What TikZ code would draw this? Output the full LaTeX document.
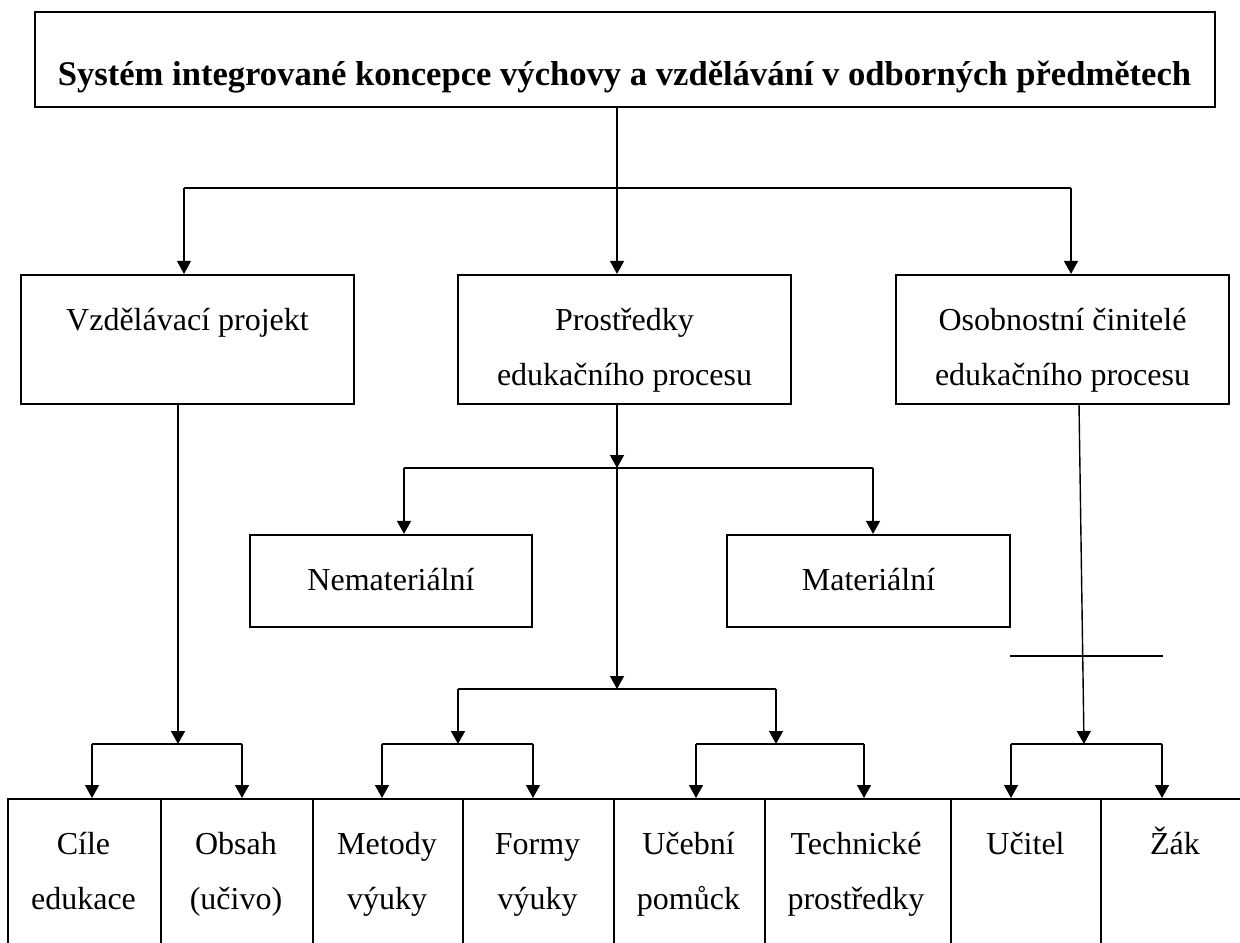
\documentclass[tikz,border=0pt]{standalone}
\usepackage{fontspec}
\setmainfont{Liberation Serif}
\usetikzlibrary{arrows.meta}
\newcommand\twol[2]{\begin{tabular}[t]{@{}c@{}}#1\\#2\end{tabular}}
\begin{document}
\begin{tikzpicture}[x=0.5pt,y=-0.5pt,
  box/.style={draw, line width=1.1pt, inner sep=0pt, font=\fontsize{16}{27.5}\selectfont},
  cellbox/.style={draw, line width=0.8pt, inner sep=0pt, anchor=north west, minimum height=81pt},
  txt/.style={font=\fontsize{16}{27.5}\selectfont, inner sep=0pt, anchor=base},
  con/.style={line width=0.7pt},
  bar/.style={line width=1.1pt},
  arr/.style={-{Triangle[length=6.5pt,width=7pt]}},
]
\useasboundingbox (0,0) rectangle (1240,942);
\clip (0,0) rectangle (1240,942);

% title
\node[box, minimum width=590pt, minimum height=47.5pt] (title) at (625,59.5) {};
\node[txt, font=\fontsize{17.3}{27.5}\selectfont\bfseries] (titletxt) at (624.5,85)
  {Systém integrované koncepce výchovy a vzdělávání v odborných předmětech};

% level 2
\node[box, minimum width=166.5pt, minimum height=64.5pt] (vp) at (187.5,339.5) {};
\node[txt] (vptxt) at (187.5,330) {Vzdělávací projekt};
\node[box, minimum width=166.5pt, minimum height=64.5pt] (pr) at (624.5,339.5) {};
\node[txt] (prtxt) at (624.5,330) {\twol{Prostředky}{edukačního procesu}};
\node[box, minimum width=166.5pt, minimum height=64.5pt] (os) at (1062.5,339.5) {};
\node[txt] (ostxt) at (1062.5,330) {\twol{Osobnostní činitelé}{edukačního procesu}};

% level 3
\node[box, minimum width=141pt, minimum height=46pt] (nem) at (391,581) {};
\node[txt] (nemtxt) at (391,590) {Nemateriální};
\node[box, minimum width=141.5pt, minimum height=46pt] (mat) at (868.5,581) {};
\node[txt] (mattxt) at (868.5,590) {Materiální};

% bottom cells
\node[cellbox, minimum width=76.5pt] (c1) at (7,798) {};
\node[cellbox, minimum width=76pt] (c2) at (160,798) {};
\node[cellbox, minimum width=75pt] (c3) at (312,798) {};
\node[cellbox, minimum width=75.5pt] (c4) at (462,798) {};
\node[cellbox, minimum width=75.5pt] (c5) at (613,798) {};
\node[cellbox, minimum width=93pt] (c6) at (764,798) {};
\node[cellbox, minimum width=75pt] (c7) at (950,798) {};
\node[cellbox, minimum width=75.5pt] (c8) at (1100,798) {};
\node[txt] (t1) at (83.5,854) {\twol{Cíle}{edukace}};
\node[txt] (t2) at (236,854) {\twol{Obsah}{(učivo)}};
\node[txt] (t3) at (387,854) {\twol{Metody}{výuky}};
\node[txt] (t4) at (537.5,854) {\twol{Formy}{výuky}};
\node[txt] (t5) at (688.5,854) {\twol{Učební}{pomůck}};
\node[txt] (t6) at (856,854) {\twol{Technické}{prostředky}};
\node[txt] (t7) at (1025.5,854) {Učitel};
\node[txt] (t8) at (1175,854) {Žák};

% junction coordinates
\coordinate (j1) at (617,188);
\coordinate (h1l) at (184,188);
\coordinate (h1r) at (1071,188);
\coordinate (j2) at (617,468);
\coordinate (h2l) at (404,468);
\coordinate (h2r) at (873,468);
\coordinate (j3) at (617,689);
\coordinate (h3l) at (458,689);
\coordinate (h3r) at (776,689);
\coordinate (b1) at (178,744);
\coordinate (b1l) at (92,744);
\coordinate (b1r) at (242,744);
\coordinate (b2) at (458,744);
\coordinate (b2l) at (382,744);
\coordinate (b2r) at (533,744);
\coordinate (b3) at (776,744);
\coordinate (b3l) at (696,744);
\coordinate (b3r) at (864,744);
\coordinate (b4) at (1084,744);
\coordinate (b4l) at (1011,744);
\coordinate (b4r) at (1162,744);
\coordinate (os4) at (1079,404);
\coordinate (xl) at (1010,656);
\coordinate (xr) at (1163,656);

% connectors level 1
\draw[con] (title.south -| j1) -- (j1);
\draw[bar] (h1l) -- (h1r);
\draw[con,arr] (h1l) -- (h1l |- vp.north);
\draw[con,arr] (j1) -- (j1 |- pr.north);
\draw[con,arr] (h1r) -- (h1r |- os.north);

% middle
\draw[con,arr] (pr.south -| j2) -- (j2);
\draw[bar] (h2l) -- (h2r);
\draw[con,arr] (h2l) -- (h2l |- nem.north);
\draw[con,arr] (h2r) -- (h2r |- mat.north);
\draw[con,arr] (j2) -- (j3);
\draw[bar] (h3l) -- (h3r);
\draw[con,arr] (h3l) -- (b2);
\draw[con,arr] (h3r) -- (b3);

% left and right
\draw[con,arr] (vp.south -| b1) -- (b1);
\draw[con,arr] (os4) -- (b4);
\draw[con] (xl) -- (xr);

% bottom brackets
\draw[bar] (b1l) -- (b1r);
\draw[bar] (b2l) -- (b2r);
\draw[bar] (b3l) -- (b3r);
\draw[bar] (b4l) -- (b4r);
\draw[con,arr] (b1l) -- (b1l |- c1.north);
\draw[con,arr] (b1r) -- (b1r |- c2.north);
\draw[con,arr] (b2l) -- (b2l |- c3.north);
\draw[con,arr] (b2r) -- (b2r |- c4.north);
\draw[con,arr] (b3l) -- (b3l |- c5.north);
\draw[con,arr] (b3r) -- (b3r |- c6.north);
\draw[con,arr] (b4l) -- (b4l |- c7.north);
\draw[con,arr] (b4r) -- (b4r |- c8.north);
\end{tikzpicture}
\end{document}
